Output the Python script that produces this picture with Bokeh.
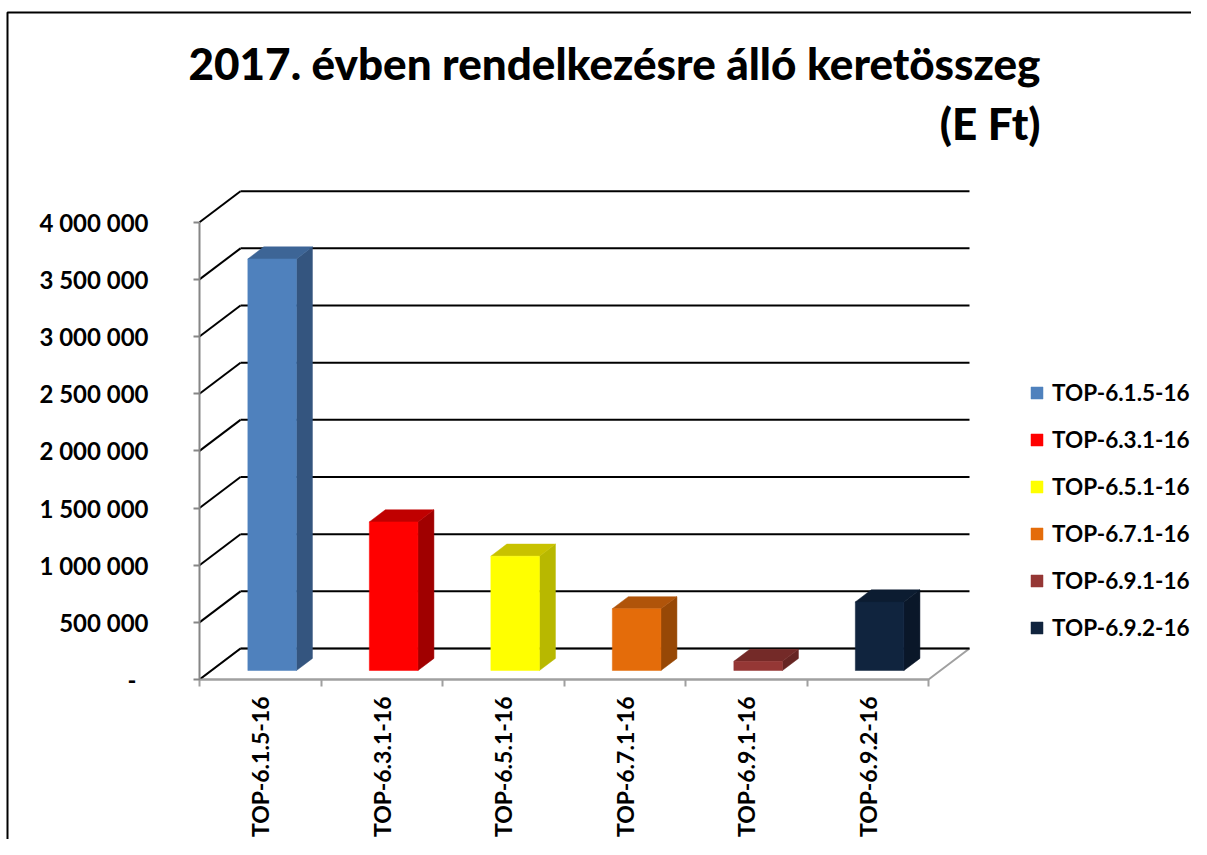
import math
from bokeh.plotting import figure
from bokeh.models import ColumnDataSource, FixedTicker, LinearAxis, Range1d, Label
from bokeh.embed import file_html
from bokeh.resources import INLINE

# ---------------- data ----------------
categories = ["TOP-6.1.5-16", "TOP-6.3.1-16", "TOP-6.5.1-16",
              "TOP-6.7.1-16", "TOP-6.9.1-16", "TOP-6.9.2-16"]
values = [3600000, 1300000, 1000000, 540000, 80000, 600000]
front_colors = ["#4F81BD", "#FF0000", "#FFFF00", "#E46C0A", "#953735", "#10243E"]
top_colors = ["#3D6596", "#C00000", "#C8C200", "#B0540A", "#742A28", "#0C1C31"]
side_colors = ["#34557F", "#A00000", "#B8B800", "#974806", "#662523", "#0A1729"]
y_ticks = [0, 500000, 1000000, 1500000, 2000000, 2500000, 3000000, 3500000, 4000000]
title_lines = ["2017. évben rendelkezésre álló keretösszeg", "(E Ft)"]

# ---------------- layout (canvas pixels) ----------------
W, H = 1191, 839
AX_X, AX_Y = 199, 679      # where the value axis / category axis cross
CAT_PX = 121.5             # pixels per category
AXIS_PX = 457.3            # pixels for 4 000 000
YMAX = 4000000
KX = 1 / CAT_PX
KY = YMAX / AXIS_PX


def dx_(px):
    return (px - AX_X) * KX


def dy_(py):
    return (AX_Y - py) * KY


DX = 41 * KX               # wall depth (x units)
DY = 31 * KY               # wall depth (y units)
F0, F1 = 0.29, 0.68        # bar depth span (fraction of wall depth)
BAR_W = 0.4
n = len(categories)

FONT = "Lato"

p = figure(width=W, height=H, x_range=Range1d(dx_(0), dx_(W)), y_range=Range1d(dy_(H), dy_(0)),
           output_backend="svg", toolbar_location=None, title=None,
           x_axis_type=None, y_axis_type=None,
           min_border_left=0, min_border_bottom=0, min_border_top=0, min_border_right=0)
p.outline_line_color = None
p.background_fill_color = "white"
p.border_fill_color = "white"

# chart border (top & left)
p.line([dx_(7), dx_(7), dx_(W + 50)], [dy_(H + 50), dy_(12), dy_(12)],
       line_color="black", line_width=2)

# floor
p.patch([0, n, n + DX, DX], [0, 0, DY, DY], fill_color=None,
        line_color="#A0A0A0", line_width=2)

# back wall gridlines and side wall diagonals
p.multi_line(xs=[[DX, n + DX] for t in y_ticks], ys=[[t + DY, t + DY] for t in y_ticks],
             line_color="black", line_width=2)
p.multi_line(xs=[[0, DX] for t in y_ticks], ys=[[t, t + DY] for t in y_ticks],
             line_color="black", line_width=2)

# bars
sx, sy = F0 * DX, F0 * DY
ddx, ddy = (F1 - F0) * DX, (F1 - F0) * DY
x0 = [i + (1 - BAR_W) / 2 + sx for i in range(n)]
x1 = [a + BAR_W for a in x0]
yb = [sy] * n
yt = [v + sy for v in values]

front = ColumnDataSource(dict(left=x0, right=x1, bottom=yb, top=yt,
                              color=front_colors, cat=categories))
sides = ColumnDataSource(dict(
    xs=[[b, b + ddx, b + ddx, b] for b in x1],
    ys=[[lo, lo + ddy, hi + ddy, hi] for lo, hi in zip(yb, yt)],
    color=side_colors))
tops = ColumnDataSource(dict(
    xs=[[a, b, b + ddx, a + ddx] for a, b in zip(x0, x1)],
    ys=[[hi, hi, hi + ddy, hi + ddy] for hi in yt],
    color=top_colors))

p.patches("xs", "ys", source=sides, fill_color="color", line_color="color", line_width=0.5)
p.patches("xs", "ys", source=tops, fill_color="color", line_color="color", line_width=0.5)
p.quad(left="left", right="right", bottom="bottom", top="top", source=front,
       fill_color="color", line_color="color", line_width=0.5, legend_field="cat")

# axes
yaxis = LinearAxis(bounds=(0, YMAX), fixed_location=0,
                   ticker=FixedTicker(ticks=y_ticks, minor_ticks=[]),
                   major_label_overrides={t: ("-\u2002" if t == 0 else f"{t:,}".replace(",", " "))
                                          for t in y_ticks})
yaxis.axis_line_color = "#868686"
yaxis.axis_line_width = 2
yaxis.major_tick_line_color = "#868686"
yaxis.major_tick_line_width = 2
yaxis.major_tick_out = 6
yaxis.major_tick_in = 0
yaxis.minor_tick_out = 0
yaxis.major_label_standoff = 45
yaxis.major_label_text_font = FONT
yaxis.major_label_text_font_style = "bold"
yaxis.major_label_text_font_size = "24px"
yaxis.major_label_text_color = "black"
p.add_layout(yaxis, "left")

xaxis = LinearAxis(bounds=(0, n), fixed_location=0,
                   ticker=FixedTicker(ticks=[i + 0.5 for i in range(n)],
                                      minor_ticks=list(range(n + 1))),
                   major_label_overrides={i + 0.5: c for i, c in enumerate(categories)},
                   major_label_orientation=math.pi / 2)
xaxis.axis_line_color = "#A0A0A0"
xaxis.axis_line_width = 2
xaxis.major_tick_out = 0
xaxis.major_tick_in = 0
xaxis.minor_tick_out = 7
xaxis.minor_tick_in = 0
xaxis.minor_tick_line_color = "#A0A0A0"
xaxis.minor_tick_line_width = 2
xaxis.major_label_standoff = 10
xaxis.major_label_text_font = FONT
xaxis.major_label_text_font_style = "bold"
xaxis.major_label_text_font_size = "23px"
xaxis.major_label_text_color = "black"
p.add_layout(xaxis, "below")

# legend
lg = p.legend[0]
lg.location = (1029, H - 641)
lg.orientation = "vertical"
lg.padding = 0
lg.margin = 0
lg.spacing = 20
lg.glyph_width = 15
lg.glyph_height = 15
lg.label_height = 24
lg.label_standoff = 8
lg.label_text_font = FONT
lg.label_text_font_style = "bold"
lg.label_text_font_size = "22.5px"
lg.label_text_color = "black"
lg.border_line_color = None
lg.background_fill_alpha = 0

# title
for k, line in enumerate(title_lines):
    p.add_layout(Label(x=1040, y=H - 62 - k * 60, x_units="screen", y_units="screen",
                       text=line, text_align="right", text_baseline="alphabetic",
                       text_font="Lato Black", text_font_style="bold",
                       text_font_size="44px", text_color="black"))

open("out.html", "w").write(file_html(p, INLINE))
